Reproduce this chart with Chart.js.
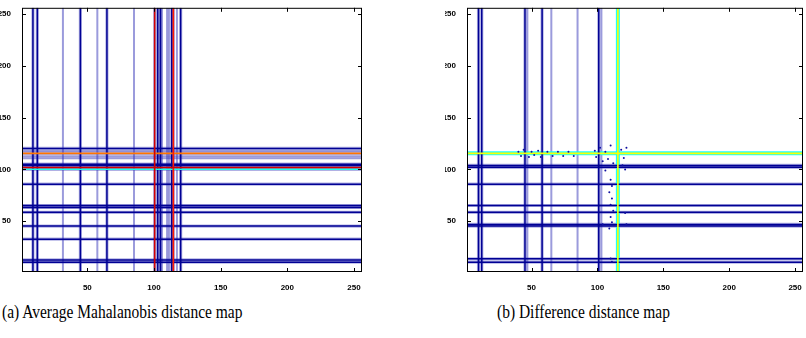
<!DOCTYPE html>
<html>
<head>
<meta charset="utf-8">
<script src="https://cdn.jsdelivr.net/npm/chart.js@4/dist/chart.umd.min.js"></script>
<style>
  html, body { margin: 0; padding: 0; background: #fff; overflow: hidden; width: 806px; height: 338px; }
  canvas { position: absolute; top: 0; }
  #left { left: 0; }
  #right { left: 445px; }
  .cap { position: absolute; top: 302px; font-family: "Liberation Serif", "Times New Roman", serif; font-size: 18px;
         transform: scaleX(0.86); transform-origin: 0 0; white-space: nowrap; color: #000; }
</style>
</head>
<body>
<canvas id="left" width="380" height="295"></canvas>
<canvas id="right" width="362" height="295"></canvas>
<div class="cap" style="left:2px">(a) Average Mahalanobis distance map</div>
<div class="cap" style="left:497px">(b) Difference distance map</div>
<script>
// axis range and tick labels (pixel indices of a 256x256 map)
const axisMin = 1, axisMax = 256;
const tickValues = [50, 100, 150, 200, 250];

// (a) average distance map: contour lines, position + level (0 = low, 1 = high, jet colormap)
const aVertPos   = [9.2, 12.5, 44.8, 64.7, 100.5, 102.8, 104.8, 113.3, 114.5, 120];
const aVertLevel = [0,   0,    0,    0,    0.92,  0,     0,     0,     0.85,  0];
const aVertFaint = [31.7, 57.5, 85, 106, 109.8, 111.2, 117.2];
const aHorzPos   = [10.4, 12.7, 32.7, 45.3, 58.6, 63.3, 65.2, 85.8, 100.1, 101.9, 103.9, 105.1, 115.5, 120.3];
const aHorzLevel = [0,    0,    0,    0,    0,    0,    0,    0,    0.4,   0.92,  0,     0,     0.76,  0];
const aHorzFaint = [110.8, 112.6, 117.9];
const aDots = [];

// (b) difference distance map
const bVertPos   = [9.75, 12.2, 45, 58, 101, 115.5];
const bVertLevel = [0,    0,    0,  0,  0,   0.62];
const bVertFaint = [46.8, 65, 84.9, 103];
const bHorzPos   = [10.4, 13.7, 45.3, 46.9, 58.6, 65.2, 85.8, 102, 103.9, 115.5];
const bHorzLevel = [0,    0,    0,    0,    0,    0,    0,    0,   0,     0.62];
const bHorzFaint = [];
const bDots = [
  [40, 117], [42, 113], [44, 119], [48, 112], [50, 117], [52, 114], [55, 118], [57, 112],
  [62, 117], [66, 113], [70, 117], [74, 113], [78, 117], [82, 113], [98, 118], [99, 112],
  [102, 121], [104, 108], [106, 117], [108, 110], [110, 123], [112, 106], [118, 119],
  [120, 111], [122, 121], [110, 90], [111, 84], [109, 78], [111, 72], [110, 66], [112, 60],
  [110, 54], [111, 49], [109, 43], [121, 100], [121, 58], [122, 47], [110, 14], [111, 11],
  [119, 104], [106, 99], [104, 47]
];

function jet(t, a) {
  const c = v => Math.round(255 * Math.max(0, Math.min(1, v)));
  const r = c(1.5 - Math.abs(4 * t - 3)), g = c(1.5 - Math.abs(4 * t - 2)), b = c(1.5 - Math.abs(4 * t - 1));
  return `rgba(${r},${g},${b},${a === undefined ? 1 : a})`;
}
// the bright line of (b) has a cyan rim, the others a soft blue one
const isBright = lv => lv > 0.5 && lv < 0.7;
function haloColor(level) {
  if (isBright(level)) return jet(0.38, 0.9);
  return "rgba(50,50,185,0.38)";
}

function lineSets(pos, levels, faint, vertical) {
  const out = [];
  const seg = p => vertical ? [{ x: p, y: axisMin }, { x: p, y: axisMax }] : [{ x: axisMin, y: p }, { x: axisMax, y: p }];
  faint.forEach(p => out.push({ data: seg(p), borderColor: "rgba(55,55,185,0.5)", borderWidth: 2, order: 3 }));
  pos.forEach((p, i) => {
    const lv = levels[i];
    out.push({ data: seg(p), borderColor: haloColor(lv), borderWidth: isBright(lv) ? 4 : 3.2, order: 2 });
    // low levels first in the list, so colored lines end up on top
    out.push({ data: seg(p), borderColor: jet(lv === 0 ? 0.02 : lv), borderWidth: lv > 0 ? 1.6 : 1.5, order: lv > 0 ? 1 - lv : 1 });
  });
  return out;
}

const frameTicks = {
  id: "frameTicks",
  afterDraw(chart) {
    const { ctx, chartArea: a, scales } = chart;
    ctx.save();
    ctx.strokeStyle = "#000";
    ctx.lineWidth = 1;
    ctx.strokeRect(a.left + 0.5, a.top + 0.5, a.right - a.left - 1, a.bottom - a.top - 1);
    ctx.beginPath();
    tickValues.forEach(v => {
      const x = Math.round(scales.x.getPixelForValue(v)) + 0.5;
      ctx.moveTo(x, a.bottom); ctx.lineTo(x, a.bottom - 4);
      ctx.moveTo(x, a.top); ctx.lineTo(x, a.top + 4);
      const y = Math.round(scales.y.getPixelForValue(v)) + 0.5;
      ctx.moveTo(a.left, y); ctx.lineTo(a.left + 4, y);
      ctx.moveTo(a.right, y); ctx.lineTo(a.right - 4, y);
    });
    ctx.stroke();
    ctx.restore();
  }
};

function makePanel(id, vPos, vLev, vFaint, hPos, hLev, hFaint, dots, rightPad) {
  const datasets = [
    ...lineSets(vPos, vLev, vFaint, true),
    ...lineSets(hPos, hLev, hFaint, false)
  ];
  if (dots.length) {
    datasets.push({
      data: dots.map(d => ({ x: d[0], y: d[1] })), showLine: false,
      pointRadius: 1, pointBackgroundColor: "#1010a0", pointBorderWidth: 0, order: 0
    });
  }
  const tickFont = { family: "Liberation Sans", size: 8, weight: "bold" };
  const axis = (extra) => Object.assign({
    type: "linear", min: axisMin, max: axisMax,
    grid: { display: false }, border: { display: false },
    afterBuildTicks: s => { s.ticks = tickValues.map(v => ({ value: v })); },
    ticks: { font: tickFont, color: "#000", padding: 3 }
  }, extra);
  return new Chart(document.getElementById(id), {
    type: "scatter",
    data: { datasets: datasets.map(d => Object.assign({ showLine: true, pointRadius: 0, fill: false }, d)) },
    options: {
      responsive: false, animation: false, events: [],
      layout: { padding: { top: 3, right: rightPad, left: 0, bottom: 0 } },
      plugins: { legend: { display: false }, tooltip: { enabled: false } },
      scales: {
        x: axis({ afterFit: s => { s.height = 23; } }),
        y: axis({ afterFit: s => { s.width = 22; } })
      }
    },
    plugins: [frameTicks]
  });
}

makePanel("left", aVertPos, aVertLevel, aVertFaint, aHorzPos, aHorzLevel, aHorzFaint, aDots, 18);
makePanel("right", bVertPos, bVertLevel, bVertFaint, bHorzPos, bHorzLevel, bHorzFaint, bDots, 0);
</script>
</body>
</html>
